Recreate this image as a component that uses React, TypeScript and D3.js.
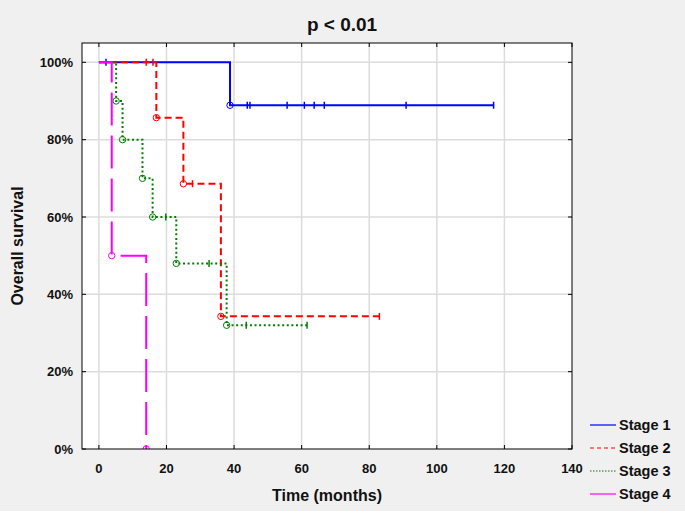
import React from "react";
import * as d3 from "d3";

// Kaplan-Meier curves (time in months, survival in %)
const stageNames = ["Stage 1", "Stage 2", "Stage 3", "Stage 4"];
const stageColors = ["#0000ff", "#ff0000", "#008000", "#ff00ff"];
const stageDash = [null, "7,4", "2,2.6", "33,10"];

const stage1Events = [{ t: 38.8, s: 88.9 }];
const stage1Censored = [2.1, 43.9, 44.7, 55.7, 60.8, 63.7, 66.7, 90.9, 116.8];

const stage2Events = [
  { t: 17.0, s: 85.7 },
  { t: 25.0, s: 68.6 },
  { t: 36.1, s: 34.3 },
];
const stage2Censored = [14.0, 16.0, 27.7, 83.0];

const stage3Events = [
  { t: 5.1, s: 90 },
  { t: 7.0, s: 80 },
  { t: 12.9, s: 70 },
  { t: 15.9, s: 60 },
  { t: 22.9, s: 48 },
  { t: 37.8, s: 32 },
];
const stage3Censored = [19.8, 32.6, 43.6, 61.6];

const stage4Events = [
  { t: 3.8, s: 50 },
  { t: 14.0, s: 0 },
];
const stage4Censored: number[] = [];

const xTicks = [0, 20, 40, 60, 80, 100, 120, 140];
const yTicks = [0, 20, 40, 60, 80, 100];

const W = 685, H = 514;
const left = 82, right = 572, top = 43, bottom = 449;
const font = "'Liberation Sans', Arial, sans-serif";

const series = [
  { events: stage1Events, censored: stage1Censored },
  { events: stage2Events, censored: stage2Censored },
  { events: stage3Events, censored: stage3Censored },
  { events: stage4Events, censored: stage4Censored },
];

function survivalAt(events, t) {
  let s = 100;
  events.forEach(e => { if (e.t <= t) s = e.s; });
  return s;
}

export default function App() {
  const x = d3.scaleLinear().domain([-5, 140]).range([left, right]);
  const y = d3.scaleLinear().domain([0, 105]).range([bottom, top]);
  const line = d3.line<[number, number]>()
    .x(d => x(d[0]))
    .y(d => y(d[1]))
    .curve(d3.curveStepAfter);

  return (
    <svg width={W} height={H} style={{ position: "absolute", left: 0, top: 0 }}>
      <rect x={0} y={0} width={W} height={511} fill="#f0f0f0" />
      <defs>
        <clipPath id="plot">
          <rect x={left} y={top} width={right - left} height={bottom - top} />
        </clipPath>
      </defs>
      <rect x={left} y={top} width={right - left} height={bottom - top} fill="#fff" />

      {/* grid */}
      {xTicks.filter(t => t < 140).map(t => (
        <line key={"gx" + t} x1={x(t)} x2={x(t)} y1={top} y2={bottom} stroke="#dcdcdc" strokeWidth={1.5} />
      ))}
      {yTicks.filter(t => t > 0).map(t => (
        <line key={"gy" + t} x1={left} x2={right} y1={y(t)} y2={y(t)} stroke="#dcdcdc" strokeWidth={1.5} />
      ))}

      {/* curves */}
      <g clipPath="url(#plot)">
        {series.map((sr, i) => {
          const last = sr.censored.length ? d3.max(sr.censored) : 0;
          const lastEvent = sr.events[sr.events.length - 1];
          const end = Math.max(last, lastEvent.t);
          const pts: [number, number][] = [[0, 100]];
          sr.events.forEach(e => pts.push([e.t, e.s]));
          if (end > lastEvent.t) pts.push([end, lastEvent.s]);
          return (
            <g key={"s" + i}>
              <path d={line(pts)} fill="none" stroke={stageColors[i]} strokeWidth={2}
                strokeDasharray={stageDash[i] || undefined} />
              {sr.events.map((e, j) => (
                <circle key={j} cx={x(e.t)} cy={y(e.s)} r={3.2} fill="none"
                  stroke={stageColors[i]} strokeWidth={1} />
              ))}
              {sr.censored.map((c, j) => (
                <line key={"c" + j} x1={x(c)} x2={x(c)}
                  y1={y(survivalAt(sr.events, c)) - 3.5} y2={y(survivalAt(sr.events, c)) + 3.5}
                  stroke={stageColors[i]} strokeWidth={1.5} />
              ))}
            </g>
          );
        })}
      </g>

      {/* frame and inner ticks */}
      <rect x={left} y={top} width={right - left} height={bottom - top} fill="none" stroke="#000" strokeWidth={1} />
      {xTicks.map(t => (
        <g key={"tx" + t}>
          <line x1={x(t)} x2={x(t)} y1={bottom} y2={bottom - 4} stroke="#000" />
          <line x1={x(t)} x2={x(t)} y1={top} y2={top + 4} stroke="#000" />
          <text x={x(t)} y={473} textAnchor="middle" fontFamily={font} fontWeight="bold" fontSize={13} fill="#111">{t}</text>
        </g>
      ))}
      {yTicks.map(t => (
        <g key={"ty" + t}>
          <line x1={left} x2={left + 4} y1={y(t)} y2={y(t)} stroke="#000" />
          <line x1={right} x2={right - 4} y1={y(t)} y2={y(t)} stroke="#000" />
          <text x={73} y={y(t) + 4.5} textAnchor="end" fontFamily={font} fontWeight="bold" fontSize={13} fill="#111">{t + "%"}</text>
        </g>
      ))}

      {/* titles */}
      <text x={342} y={31} textAnchor="middle" fontFamily={font} fontWeight="bold" fontSize={19} fill="#111">p &lt; 0.01</text>
      <text x={(left + right) / 2} y={501} textAnchor="middle" fontFamily={font} fontWeight="bold" fontSize={16} fill="#111">Time (months)</text>
      <text transform={`translate(23,${(top + bottom) / 2}) rotate(-90)`} textAnchor="middle" fontFamily={font} fontWeight="bold" fontSize={16} fill="#111">Overall survival</text>

      {/* legend */}
      {stageNames.map((n, i) => (
        <g key={n} transform={`translate(590,${425 + i * 23})`}>
          <line x1={0} x2={26} y1={0} y2={0} stroke={stageColors[i]} strokeWidth={1.2}
            strokeDasharray={i === 1 ? "4,3" : i === 2 ? "1.5,1.5" : undefined} />
          <text x={29} y={5} fontFamily={font} fontWeight="bold" fontSize={14.5} fill="#111">{n}</text>
        </g>
      ))}
    </svg>
  );
}
